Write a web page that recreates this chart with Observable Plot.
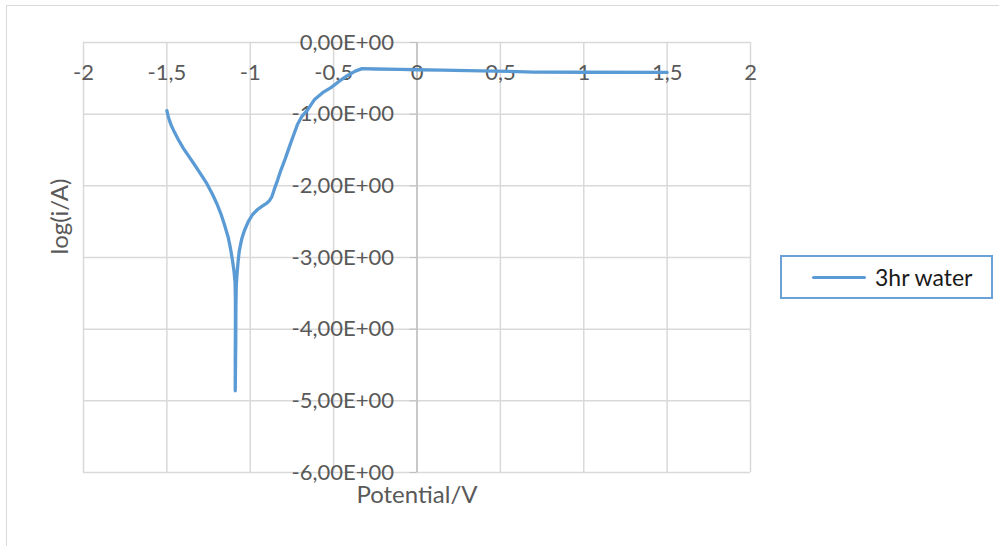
<!DOCTYPE html>
<html>
<head>
<meta charset="utf-8">
<script src="https://cdn.jsdelivr.net/npm/d3@7"></script>
<script src="https://cdn.jsdelivr.net/npm/@observablehq/plot@0.6"></script>
<style>
  html, body { margin: 0; padding: 0; background: #fff; }
  #wrap { position: relative; width: 999px; height: 546px; overflow: hidden; font-family: Lato, "Open Sans", sans-serif; }
  #border { position: absolute; left: 6px; top: 5px; width: 992px; height: 560px; border-left: 1.5px solid #d9d9d9; border-top: 1.5px solid #d9d9d9; border-right: 1.5px solid #d9d9d9; }
  #chart { position: absolute; left: 0; top: 0; }
  #legend { position: absolute; left: 780px; top: 255px; width: 209px; height: 40px; border: 2px solid #6aa2d8; background: #fff; }
  #legend .sw { position: absolute; left: 30px; top: 19px; width: 54px; height: 3px; background: #5b9bd5; border-radius: 2px; }
  #legend .lb { position: absolute; left: 93px; top: 6px; font-size: 23px; line-height: 28px; color: #1a1a1a; white-space: nowrap; }
</style>
</head>
<body>
<div id="wrap">
  <div id="border"></div>
  <div id="chart"></div>
  <div id="legend"><div class="sw"></div><div class="lb" id="legendLabel"></div></div>
</div>
<script>
const seriesName = "3hr water";
const xTitle = "Potential/V";
const yTitle = "log(i/A)";
const xTicks = [-2, -1.5, -1, -0.5, 0, 0.5, 1, 1.5, 2];
const yTicks = [0, -1, -2, -3, -4, -5, -6];

const potential = [
  -1.500, -1.490, -1.475, -1.455, -1.430, -1.400, -1.365, -1.330, -1.296, -1.260,
  -1.226, -1.200, -1.176, -1.155, -1.132, -1.118, -1.106, -1.097, -1.091, -1.089,
  -1.089, -1.090, -1.090, -1.087, -1.086, -1.084, -1.080, -1.073, -1.066, -1.052,
  -1.036, -1.012, -0.986, -0.956, -0.926, -0.900, -0.886, -0.870, -0.856, -0.836,
  -0.816, -0.790, -0.766, -0.740, -0.716, -0.690, -0.656, -0.616, -0.566, -0.516,
  -0.466, -0.416, -0.370, -0.330, -0.250, -0.100, 0.000, 0.150, 0.380, 0.600,
  0.700, 1.000, 1.500
];
const logCurrent = [
  -0.95, -1.05, -1.15, -1.25, -1.36, -1.48, -1.60, -1.72, -1.84, -1.97,
  -2.12, -2.25, -2.39, -2.54, -2.72, -2.88, -3.05, -3.20, -3.35, -3.60,
  -4.00, -4.40, -4.86, -4.20, -3.70, -3.40, -3.25, -3.06, -2.91, -2.75,
  -2.63, -2.50, -2.40, -2.33, -2.28, -2.24, -2.21, -2.15, -2.05, -1.92,
  -1.78, -1.62, -1.46, -1.29, -1.14, -1.03, -0.94, -0.80, -0.70, -0.63,
  -0.54, -0.46, -0.40, -0.365, -0.370, -0.375, -0.380, -0.386, -0.395, -0.405,
  -0.412, -0.415, -0.418
];

const data = potential.map((x, i) => ({x, y: logCurrent[i]}));
const fmtY = d => d.toFixed(2).replace(".", ",") + "E+00";
const fmtX = d => String(d).replace(".", ",");

const W = 999, H = 546;
const mL = 83, mR = 249, mT = 42, mB = 74;
const zeroDx = (0 - (-2)) / 4 * (W - mL - mR);

const chart = Plot.plot({
  width: W, height: H,
  marginLeft: mL, marginRight: mR, marginTop: mT, marginBottom: mB,
  style: {fontFamily: "Lato, 'Open Sans', sans-serif", fontSize: "22px", color: "#595959", background: "transparent"},
  x: {domain: [-2, 2], axis: null},
  y: {domain: [-6, 0], axis: null},
  marks: [
    Plot.gridX(xTicks, {stroke: "#d9d9d9", strokeOpacity: 1, strokeWidth: 1.5}),
    Plot.gridY(yTicks, {stroke: "#d9d9d9", strokeOpacity: 1, strokeWidth: 1.5}),
    Plot.ruleX([0], {stroke: "#bfbfbf", strokeWidth: 1.5}),
    Plot.axisY(yTicks, {anchor: "left", dx: zeroDx, tickSize: 7, tickPadding: 16, tickFormat: fmtY, stroke: "#bfbfbf", fill: "#595959", fontSize: 22, label: null}),
    Plot.text(xTicks, {x: d => d, y: 0, dy: 30, text: fmtX, fill: "#595959", fontSize: 22}),
    Plot.line(data, {x: "x", y: "y", stroke: "#5b9bd5", strokeWidth: 3.3, strokeLinejoin: "round", strokeLinecap: "round"}),
    Plot.text([xTitle], {frameAnchor: "bottom", dy: 30, fill: "#595959", fontSize: 24}),
    Plot.text([yTitle], {frameAnchor: "left", dx: -23, dy: -3, rotate: -90, fill: "#595959", fontSize: 24, letterSpacing: "1.5px"})
  ]
});
document.getElementById("chart").appendChild(chart);
document.getElementById("legendLabel").textContent = seriesName;
</script>
</body>
</html>
